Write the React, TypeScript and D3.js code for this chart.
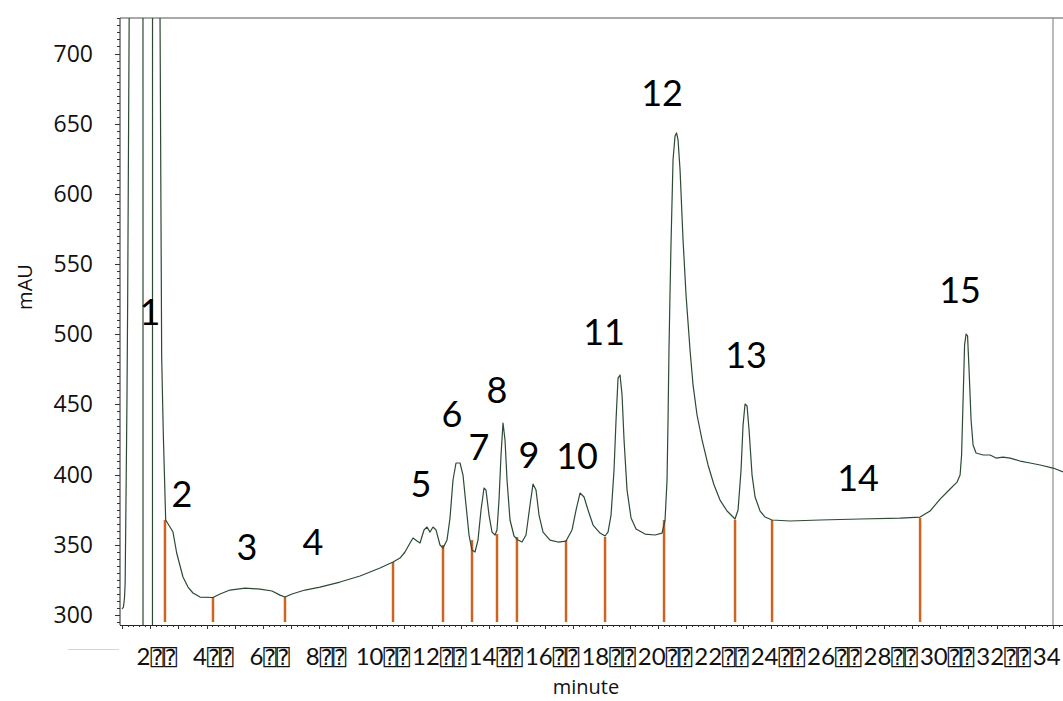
import React from "react";
import * as d3 from "d3";

// Chromatogram trace (minutes, mAU)
const times = [
  1.0, 1.053, 1.089, 1.113, 1.135, 1.16, 1.177, 1.202, 1.23, 1.255, 1.32, 1.744, 1.746, 2.081, 2.083,
  2.347, 2.349, 2.407, 2.464, 2.549, 2.702, 2.808, 2.939, 3.162, 3.34, 3.517, 3.765, 4.226, 4.474,
  4.828, 5.36, 5.892, 6.317, 6.601, 6.778, 7.026, 7.487, 8.019, 8.728, 9.437, 10.146, 10.607, 10.855,
  11.032, 11.21, 11.316, 11.458, 11.564, 11.706, 11.812, 11.919, 12.025, 12.131, 12.273, 12.379,
  12.521, 12.627, 12.733, 12.84, 12.982, 13.088, 13.194, 13.301, 13.407, 13.513, 13.619, 13.726,
  13.832, 13.903, 14.01, 14.116, 14.222, 14.293, 14.364, 14.435, 14.506, 14.577, 14.648, 14.754,
  14.896, 15.037, 15.179, 15.321, 15.463, 15.569, 15.676, 15.782, 15.924, 16.172, 16.456, 16.739,
  16.952, 17.094, 17.236, 17.378, 17.519, 17.697, 17.945, 18.122, 18.228, 18.335, 18.441, 18.512,
  18.583, 18.654, 18.725, 18.796, 18.902, 19.044, 19.221, 19.54, 19.894, 20.142, 20.249, 20.32,
  20.355, 20.39, 20.426, 20.461, 20.532, 20.603, 20.656, 20.71, 20.781, 20.887, 20.993, 21.135,
  21.241, 21.383, 21.56, 21.773, 21.986, 22.198, 22.447, 22.73, 22.837, 22.943, 23.014, 23.085,
  23.156, 23.227, 23.333, 23.44, 23.617, 23.794, 24.042, 24.68, 25.744, 27.162, 28.58, 29.289,
  29.643, 29.998, 30.352, 30.6, 30.707, 30.76, 30.813, 30.866, 30.919, 30.972, 31.025, 31.096,
  31.167, 31.273, 31.522, 31.77, 31.982, 32.23, 32.478, 32.833, 33.187, 33.542, 34.003, 34.357,
];
const mAU = [
  304.3, 305.7, 312.1, 322.8, 367.7, 417.5, 453.2, 524.4, 631.3, 725.3, 900, 900, 250, 250, 900,
  900, 725, 483.8, 429.7, 367.7, 362.7, 359.1, 344.2, 327.1, 319.9, 315.7, 312.8, 312.5, 315.0,
  317.8, 319.2, 318.5, 317.1, 314.2, 312.8, 315.0, 317.8, 319.9, 323.5, 327.8, 333.5, 337.8, 340.6,
  344.9, 351.3, 354.9, 352.7, 351.3, 360.6, 362.7, 359.1, 362.7, 360.6, 349.9, 347.7,
  353.4, 369.1, 396.2, 408.3, 408.3, 399.7, 378.4, 357.0, 346.3, 344.9, 353.4, 374.8,
  390.5, 389.0, 371.2, 359.1, 357.0, 360.6, 381.9, 414.0, 436.8, 424.7, 396.2, 367.7,
  356.3, 353.4, 352.0, 357.0, 378.4, 393.3, 389.0, 371.2, 359.1, 353.4, 352.0, 352.7,
  360.6, 374.8, 386.9, 384.1, 374.8, 364.1, 358.4, 356.3, 359.1, 371.2, 403.3, 438.9,
  468.8, 471.0, 456.7, 424.7, 389.0, 369.1, 361.3, 357.7, 357.0, 358.4, 367.7, 396.2,
  438.9, 490.9, 530.1, 565.0, 624.1, 641.2, 643.4, 638.4, 617.0, 567.2, 528.0, 488.8,
  463.9, 442.5, 424.7, 406.9, 392.6, 381.9, 374.1, 368.4, 374.8, 403.3, 435.3, 450.3,
  448.9, 431.8, 399.7, 384.1, 374.1, 369.8, 367.7, 367.0, 367.7, 368.4, 369.1, 369.8,
  374.1, 382.6, 389.8, 394.7, 399.7, 414.0, 453.2, 492.3, 500.2, 498.8, 474.5, 438.9,
  421.1, 415.4, 414.0, 414.0, 411.8, 412.5, 411.8, 409.7, 408.3, 406.9, 404.7, 401.9,
];

// Integration markers (orange)
const markerTimes = [2.524, 4.226, 6.778, 10.607, 12.379, 13.407, 14.293, 15.0, 16.739, 18.122, 20.213, 22.73, 24.042, 29.289];
const markerTops = [367.7, 312.8, 312.8, 337.8, 349.9, 353.4, 357.7, 355.6, 353.4, 355.6, 367.7, 367.7, 367.7, 369.1];
const markerBase = 295;

// Peak labels
const peakLabels = ["1", "2", "3", "4", "5", "6", "7", "8", "9", "10", "11", "12", "13", "14", "15"];
const peakLabelTimes = [1.993, 3.127, 5.431, 7.771, 11.599, 12.698, 13.655, 14.293, 15.428, 17.129, 18.086, 20.142, 23.12, 27.09, 30.706];
const peakLabelValues = [506.6, 376.9, 339.2, 342.7, 384.1, 433.9, 410.4, 451.0, 404.7, 404.0, 492.3, 662.6, 476.0, 388.3, 522.3];

const xTickValues = [2, 4, 6, 8, 10, 12, 14, 16, 18, 20, 22, 24, 26, 28, 30, 32, 34];
const yTickValues = [300, 350, 400, 450, 500, 550, 600, 650, 700];
const tofu = "\u2370\u2370";

const W = 1063;
const H = 701;

export default function App() {
  const x = d3.scaleLinear().domain([0.93, 34]).range([120, 1053]);
  const y = d3.scaleLinear().domain([292.9, 725.3]).range([625, 18]);
  const left = 120, right = W, top = 18, bottom = 625;

  const pts: [number, number][] = times.map((t, i) => [t, mAU[i]]);
  const line = d3.line<[number, number]>().x((d) => x(d[0])).y((d) => y(d[1]));

  const xMinor = d3.range(1, 34.41, 0.2).map((v) => Math.round(v * 10) / 10);
  const yMinor = d3.range(295, 726, 5);
  const lastTick = xTickValues[xTickValues.length - 1];

  return (
    <svg width={W} height={H} style={{ position: "absolute", left: 0, top: 0, display: "block", background: "#fff" }}>
      <defs>
        <clipPath id="plot">
          <rect x={left} y={top} width={right - left} height={bottom - top} />
        </clipPath>
      </defs>
      {/* frame */}
      <line x1={left} x2={right} y1={top} y2={top} stroke="#555" strokeWidth={1} />
      <line x1={x(34)} x2={x(34)} y1={top} y2={bottom} stroke="#777" strokeWidth={1} />
      <line x1={68} x2={119} y1={649.5} y2={649.5} stroke="#d6d6d6" strokeWidth={1} />

      {/* y axis */}
      <line x1={left} x2={left} y1={top} y2={bottom} stroke="#222" strokeWidth={1} />
      {yMinor.map((v) => (
        <line key={"ym" + v} x1={left - (v % 50 === 0 ? 5 : 3)} x2={left} y1={Math.round(y(v)) + 0.5} y2={Math.round(y(v)) + 0.5} stroke="#333" strokeWidth={1} />
      ))}
      {yTickValues.map((v) => (
        <text key={"yl" + v} x={93} y={y(v) + 8} textAnchor="end" fontFamily="'Open Sans', sans-serif" fontSize={23} fill="#111">
          {v}
        </text>
      ))}

      {/* x axis */}
      <line x1={left} x2={right} y1={bottom + 0.5} y2={bottom + 0.5} stroke="#222" strokeWidth={1} />
      {xMinor.map((v) => (
        <line key={"xm" + v} x1={Math.round(x(v)) + 0.5} x2={Math.round(x(v)) + 0.5} y1={bottom} y2={bottom + (Math.abs(v - Math.round(v)) < 0.01 ? 4 : 2)} stroke="#333" strokeWidth={1} />
      ))}
      {xTickValues.map((v) => {
        const s = String(v);
        const start = x(v) - 7 - s.length * 6.6;
        return (
          <text key={"xl" + v} x={start} y={665} textAnchor="start" fontFamily="Lato, sans-serif" fontSize={24} fill="#111">
            {s}
            {v !== lastTick && (
              <tspan fontFamily="'DejaVu Sans Mono', 'DejaVu Sans'" fontSize={22}>{tofu}</tspan>
            )}
          </text>
        );
      })}

      {/* trace */}
      <g clipPath="url(#plot)">
        {markerTimes.map((t, i) => (
          <line key={"mk" + i} x1={x(t)} x2={x(t)} y1={y(markerBase)} y2={y(markerTops[i])} stroke="#cf6420" strokeWidth={2.5} />
        ))}
        <path d={line(pts) || ""} fill="none" stroke="#2c4a34" strokeWidth={1.2} strokeLinejoin="round" />
      </g>

      {peakLabels.map((l, i) => (
        <text key={"pl" + i} x={x(peakLabelTimes[i])} y={y(peakLabelValues[i])} textAnchor="middle" fontFamily="Lato, sans-serif" fontSize={36} fill="#000">
          {l}
        </text>
      ))}

      <text transform={`translate(32,287) rotate(-90)`} textAnchor="middle" fontFamily="'Open Sans', sans-serif" fontSize={20} fill="#111">
        mAU
      </text>
      <text x={586} y={694} textAnchor="middle" fontFamily="'Open Sans', sans-serif" fontSize={20} fill="#111">
        minute
      </text>
    </svg>
  );
}
